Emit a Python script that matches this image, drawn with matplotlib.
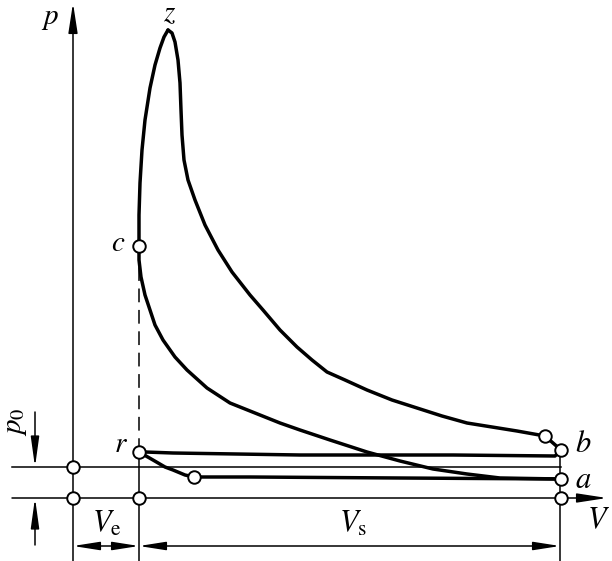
import numpy as np
import matplotlib.pyplot as plt

plt.rcParams['mathtext.fontset'] = 'stix'
plt.rcParams['font.family'] = ['Liberation Serif', 'DejaVu Serif']

# volume / pressure (arbitrary units, origin at V axis / p axis)
V_E = 66        # clearance volume (TDC)
V_A = 488       # total volume (BDC)
P0 = 31         # atmospheric pressure line

# combustion c -> z
comb_V = [66, 66, 67, 69, 72, 77, 82, 87, 91, 95]
comb_p = [252, 283, 315, 348, 378, 410, 433, 450, 461, 468]

# expansion z -> opening of exhaust valve
exp_V = [95, 99, 102, 105, 107, 108, 109, 111, 115, 122, 132, 145, 159, 177, 190,
         207, 224, 239, 254, 272, 294, 319, 344, 369, 394, 419, 444, 472]
exp_p = [468, 465, 456, 438, 415, 388, 363, 338, 318, 298, 273, 248, 226, 203, 188,
         168, 151, 138, 126, 118, 108, 98, 90, 82, 75, 71, 67, 62]

# blowdown and exhaust stroke b -> r
exh_V = [472, 488, 482, 380, 227, 100, 72, 66]
exh_p = [62, 48, 42, 43, 43, 45, 46, 46]

# intake stroke r -> a
int_V = [66, 80, 92, 100, 112, 121, 177, 327, 488]
int_p = [46, 38, 31, 28, 23, 21, 21, 20, 19]

# compression a -> c
cmp_V = [488, 427, 394, 360, 327, 294, 257, 227, 207, 182, 157, 134, 114, 102,
         90, 82, 77, 72, 68, 66, 66]
cmp_p = [19, 20, 24, 29, 37, 46, 58, 68, 75, 85, 95, 110, 128, 141, 158, 173,
         188, 203, 221, 238, 252]

# marked points
pts_V = [0, 0, V_E, V_E, V_E, 121, 472, V_A, V_A, V_A]
pts_p = [P0, 0, 0, 46, 252, 21, 62, 48, 19, 0]

fig = plt.figure(figsize=(6.12, 5.61), dpi=100)
ax = fig.add_axes([0, 0, 1, 1])
ax.set_xlim(-73, 539)
ax.set_ylim(-63, 498)
ax.axis('off')

thin = dict(color='black', lw=1.1)
thick = dict(color='black', lw=2.5, solid_joinstyle='round', solid_capstyle='round')

# axes of the diagram
ax.annotate('', xy=(0, 495), xytext=(0, -63),
            arrowprops=dict(arrowstyle='-|>,head_length=1.3,head_width=0.2',
                            mutation_scale=14, color='black', lw=1.1,
                            shrinkA=0, shrinkB=0))
ax.annotate('', xy=(534, 0), xytext=(-61, 0),
            arrowprops=dict(arrowstyle='-|>,head_length=1.3,head_width=0.2',
                            mutation_scale=14, color='black', lw=1.1,
                            shrinkA=0, shrinkB=0))
ax.plot([-61, V_A], [P0, P0], **thin)

# TDC / BDC lines
ax.plot([V_E, V_E], [-63, 46], **thin)
ax.plot([V_E, V_E], [46, 252], color='black', lw=1.1, dashes=(9, 5))
ax.plot([V_A - 1, V_A - 1], [-63, 48], **thin)

# cycle
ax.plot(comb_V, comb_p, **thick)
ax.plot(exp_V, exp_p, **thick)
ax.plot(exh_V, exh_p, **thick)
ax.plot(int_V, int_p, **thick)
ax.plot(cmp_V, cmp_p, **thick)

ax.plot(pts_V, pts_p, 'o', ms=9, mfc='white', mec='black', mew=1.4, zorder=5)

# dimension arrows
dim = dict(arrowstyle='<|-|>,head_length=1.15,head_width=0.18', mutation_scale=14,
           color='black', lw=1.1, shrinkA=0, shrinkB=0)
ax.annotate('', xy=(0, -48), xytext=(V_E, -48), arrowprops=dim)
ax.annotate('', xy=(V_E, -48), xytext=(V_A - 1, -48), arrowprops=dim)
one = dict(arrowstyle='-|>,head_length=1.3,head_width=0.18', mutation_scale=14,
           color='black', lw=1.1, shrinkA=0, shrinkB=0)
ax.annotate('', xy=(-38, P0), xytext=(-38, 86), arrowprops=one)
ax.annotate('', xy=(-38, 0), xytext=(-38, -47), arrowprops=one)

# labels
ax.text(-23, 479, '$p$', fontsize=21, ha='center', va='center')
ax.text(97, 484, '$z$', fontsize=21, ha='center', va='center')
ax.text(45, 254, '$c$', fontsize=21, ha='center', va='center')
ax.text(48, 53, '$r$', fontsize=21, ha='center', va='center')
ax.text(510, 54, '$b$', fontsize=22, ha='center', va='center')
ax.text(510, 18, '$a$', fontsize=22, ha='center', va='center')
ax.text(525, -23, '$V$', fontsize=22, ha='center', va='center')
ax.text(34, -26, r'$V_{\mathrm{e}}$', fontsize=22, ha='center', va='center')
ax.text(280, -26, r'$V_{\mathrm{s}}$', fontsize=22, ha='center', va='center')
ax.text(-57, 76, r'$p_0$', fontsize=21, ha='center', va='center', rotation=90)

fig.savefig('out.png', dpi=100)
